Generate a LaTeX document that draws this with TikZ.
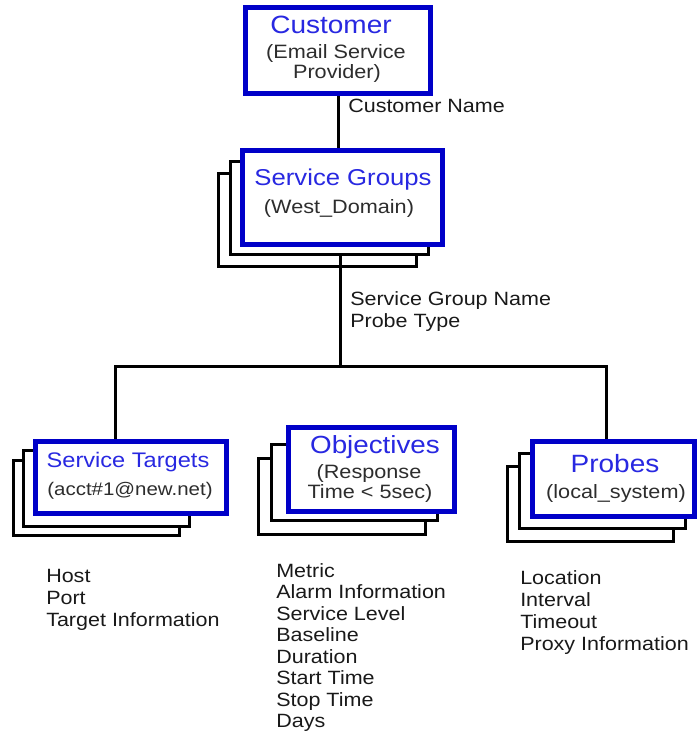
\documentclass[tikz,border=0pt]{standalone}
\usepackage{fontspec}
\setmainfont{Liberation Sans}[FakeStretch=1.12]
\definecolor{boxblue}{RGB}{0,0,200}
\definecolor{titleblue}{RGB}{40,40,225}
\definecolor{subgray}{RGB}{45,45,45}
\definecolor{listgray}{RGB}{25,25,25}
\tikzset{
  frontbox/.style={rectangle, draw=boxblue, line width=3.75pt, fill=white, inner sep=0pt},
  backbox/.style={rectangle, draw=black, line width=2.6pt, fill=white, inner sep=0pt},
  conn/.style={draw=black, line width=2.25pt},
  title/.style={anchor=base, inner sep=0pt, text=titleblue},
  sub/.style={anchor=base, inner sep=0pt, text=subgray, font=\fontsize{14.5}{16}\selectfont},
  item/.style={anchor=base west, inner sep=0pt, text=listgray, font=\fontsize{14.4}{16}\selectfont},
}
\begin{document}
\begin{tikzpicture}[x=0.75pt, y=-0.75pt]
\useasboundingbox (0,0) rectangle (697,736);

% bus coordinates
\coordinate (busM) at (340,366);
\coordinate (busL) at (115,366);
\coordinate (busR) at (606,366);

% Customer
\node[frontbox, minimum width=138.75pt, minimum height=64.5pt] (cust) at (338,50.5) {};

% Service Groups stack
\node[backbox, minimum width=148.5pt, minimum height=69.75pt] (sgb2) at (317.5,220) {};
\node[backbox, minimum width=148.5pt, minimum height=69.75pt] (sgb1) at (329.5,208) {};
\node[frontbox, minimum width=150pt, minimum height=70.5pt] (sg) at (342.5,197.5) {};

% Service Targets stack
\node[backbox, minimum width=124.5pt, minimum height=56.25pt] (stb2) at (96.5,498) {};
\node[backbox, minimum width=124.5pt, minimum height=57pt] (stb1) at (106.5,488.5) {};
\node[frontbox, minimum width=143.25pt, minimum height=54pt] (st) at (131,477.5) {};

% Objectives stack
\node[backbox, minimum width=125.25pt, minimum height=57pt] (obb2) at (342,496.5) {};
\node[backbox, minimum width=124.5pt, minimum height=57pt] (obb1) at (354.5,482.5) {};
\node[frontbox, minimum width=124.5pt, minimum height=63pt] (ob) at (371.5,469.5) {};

% Probes stack
\node[backbox, minimum width=124.5pt, minimum height=56.25pt] (prb2) at (590.5,504) {};
\node[backbox, minimum width=124.5pt, minimum height=56.25pt] (prb1) at (602.5,491) {};
\node[frontbox, minimum width=121.5pt, minimum height=56.25pt] (pr) at (613.5,479) {};

% connectors
\draw[conn] (cust.south) -- (cust.south |- sg.north);
\draw[conn] (sgb1.south -| busM) -- (busM);
\draw[conn] (busL |- st.north) -- (busL) -- (busR) -- (busR |- pr.north);

% box texts
\node[title, font=\fontsize{18.75}{20}\selectfont] (custT) at (331,33) {Customer};
\node[sub] (custS1) at (336,58) {(Email Service};
\node[sub] (custS2) at (337,78) {Provider)};

\node[title, font=\fontsize{17.2}{19}\selectfont] (sgT) at (343,185) {Service Groups};
\node[sub] (sgS) at (339,213) {(West\_Domain)};

\node[title, font=\fontsize{15.8}{18}\selectfont] (stT) at (128,467) {Service Targets};
\node[sub, font=\fontsize{13.7}{15}\selectfont] (stS) at (130,495) {(acct\#1@new.net)};

\node[title, font=\fontsize{18.6}{20}\selectfont] (obT) at (375,453) {Objectives};
\node[sub] (obS1) at (369,478) {(Response};
\node[sub] (obS2) at (370,498) {Time < 5sec)};

\node[title, font=\fontsize{18.75}{20}\selectfont] (prT) at (615,472) {Probes};
\node[sub] (prS) at (616,498) {(local\_system)};

% connector labels
\node[item] (lblCust) at (348,112) {Customer Name};
\node[item] (lblSg1) at (350,305) {Service Group Name};
\node[item] (lblSg2) at (350,327) {Probe Type};

% attribute lists
\foreach \t [count=\i from 0] in {Host, Port, Target Information}
  \node[item] (stL\i) at (46,582+22*\i) {\t};
\foreach \t [count=\i from 0] in {Metric, Alarm Information, Service Level, Baseline, Duration, Start Time, Stop Time, Days}
  \node[item] (obL\i) at (276,577+21.5*\i) {\t};
\foreach \t [count=\i from 0] in {Location, Interval, Timeout, Proxy Information}
  \node[item] (prL\i) at (520,584+22*\i) {\t};
\end{tikzpicture}
\end{document}
